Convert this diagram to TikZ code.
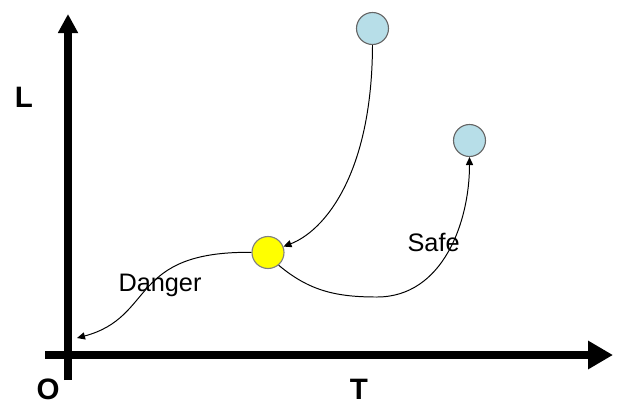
\documentclass[tikz,border=0pt]{standalone}
\usepackage{fontspec}
\setmainfont{Liberation Sans}
\usetikzlibrary{arrows.meta}
\definecolor{dotblue}{RGB}{183,222,232}
\definecolor{dotyellow}{RGB}{255,255,0}

\begin{document}
\begin{tikzpicture}[
    axis/.style={line width=0.2cm},
    dot/.style={circle, draw=black!60, line width=0.8pt, minimum size=0.8cm, inner sep=0pt},
    far/.style={dot, fill=dotblue},
    now/.style={dot, fill=dotyellow, draw=black!50},
    move/.style={-{Triangle[length=2mm,width=1.8mm]}, line width=0.7pt},
    axlabel/.style={font=\fontsize{21}{25}\selectfont\bfseries, inner sep=0pt, anchor=base},
    note/.style={font=\fontsize{18}{22}\selectfont, anchor=base}
]
\useasboundingbox (-1.7,-1.3) rectangle (13.725,8.875);

% axes
\draw[axis, -{Triangle[length=4.75mm,width=4.75mm]}] (0,-0.625) -- (0,8.525);
\draw[axis, -{Triangle[length=6.25mm,width=6.75mm]}] (-0.575,0) -- (13.625,0);

\node[axlabel] (lbl) at (-1.1,6.2) {L};
\node[axlabel] (orig) at (-0.5,-1.12) {O};
\node[axlabel] (tlbl) at (7.275,-1.12) {T};

\node[far] (top) at (7.6125,8.1625) {};
\node[far] (side) at (10.0375,5.3625) {};
\node[now] (yel) at (5.0,2.5625) {};

\coordinate (low) at (7.725,1.45);
\coordinate (dng) at (0.225,0.425);

\draw[move] (top.south) .. controls (7.6,4.5) and (6.4,3.1) .. (yel);
\draw[move] (yel.-50) to[out=-40,in=180] (low) to[out=0,in=-90] (side.south);
\draw[move] (yel) .. controls (1.5,2.6) and (2.2,0.95) .. (dng);

\node[note] (danger) at (2.3,1.6) {Danger};
\node[note] (safe) at (9.14,2.6) {Safe};
\end{tikzpicture}
\end{document}
